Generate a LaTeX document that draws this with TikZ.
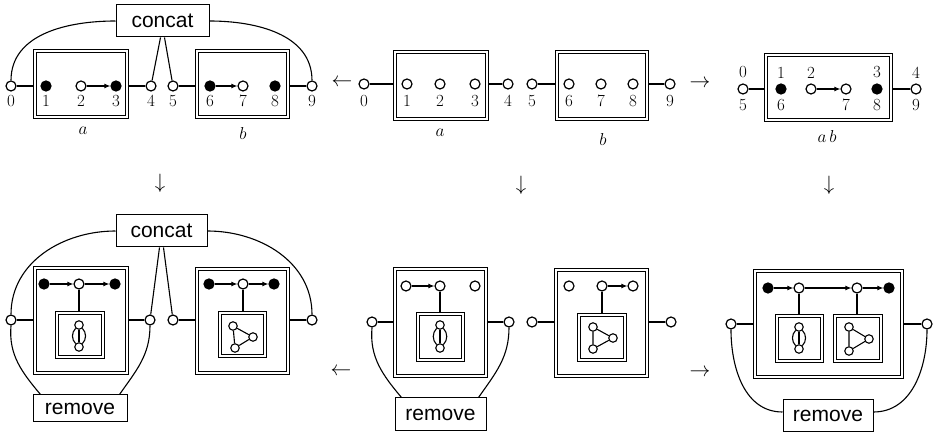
\documentclass[tikz,border=0pt]{standalone}
\usepackage{fontspec}
\newfontfamily\opfont{Liberation Sans}
\usetikzlibrary{arrows.meta,calc}

\tikzset{
  wire/.style={line width=1.1pt},
  arr/.style={wire,-{Latex[length=6pt,width=5pt]}},
  vtx/.style={circle,draw,line width=1.2pt,fill=white,minimum size=10pt,inner sep=0pt},
  fv/.style={vtx,fill=black},
  sv/.style={circle,draw,line width=1.1pt,fill=white,minimum size=8.5pt,inner sep=0pt},
  multi/.style={wire,bend left=#1},
  % heavy outer frame with a thin frame just inside it
  dbox/.style={draw,line width=1.6pt,inner sep=0pt,
    path picture={\draw[line width=0.7pt]
      ($(path picture bounding box.south west)+(2.8,2.8)$) rectangle
      ($(path picture bounding box.north east)+(-2.8,-2.8)$);}},
  opbox/.style={draw,line width=1pt,fill=white,inner sep=0pt,
    font=\opfont\fontsize{21}{21}\selectfont},
  lbl/.style={inner sep=0pt,font=\fontsize{17}{17}\selectfont},
  every label/.style={lbl},
  sym/.style={inner sep=0pt,font=\fontsize{20}{20}\selectfont},
}

\begin{document}
\begin{tikzpicture}[x=1pt,y=1pt]
\useasboundingbox (0,0) rectangle (938,-438);

% ---------- top left: concat applied to a and b ----------
\node[opbox,minimum width=93pt,minimum height=32pt] (c1) at (162.5,-21) {concat};
\node[dbox,minimum width=95pt,minimum height=69pt] (a1) at (81,-84) {};
\node[dbox,minimum width=94pt,minimum height=69pt] (b1) at (242.5,-84) {};
\node[vtx,label={[label distance=3pt]below:0}] (n0) at (11,-86) {};
\node[fv ,label={[label distance=3pt]below:1}] (n1) at (46,-86) {};
\node[vtx,label={[label distance=3pt]below:2}] (n2) at (81,-86) {};
\node[fv ,label={[label distance=3pt]below:3}] (n3) at (116,-86) {};
\node[vtx,label={[label distance=3pt]below:4}] (n4) at (151,-86) {};
\node[vtx,label={[label distance=3pt]below:5}] (n5) at (173,-86) {};
\node[fv ,label={[label distance=3pt]below:6}] (n6) at (210,-86) {};
\node[vtx,label={[label distance=3pt]below:7}] (n7) at (243,-86) {};
\node[fv ,label={[label distance=3pt]below:8}] (n8) at (275,-86) {};
\node[vtx,label={[label distance=3pt]below:9}] (n9) at (312,-86) {};
\draw[wire] (n0) -- (n0 -| a1.west);
\draw[wire] (n4) -- (n4 -| a1.east);
\draw[wire] (n5) -- (n5 -| b1.west);
\draw[wire] (n9) -- (n9 -| b1.east);
\draw[arr] (n2) -- (n3);
\draw[arr] (n6) -- (n7);
\draw[wire] (c1.west) to[out=180,in=90] (n0.north);
\draw[wire] (c1.east) to[out=0,in=90] (n9.north);
\draw[wire] ($(c1.south)+(-2,0)$) -- (n4);
\draw[wire] ($(c1.south)+(2,0)$) -- (n5);
\node[lbl,anchor=base] (ta1) at (83,-135) {$a$};
\node[lbl,anchor=base] (tb1) at (243,-140) {$b$};

% ---------- top middle: a and b ----------
\node[dbox,minimum width=95pt,minimum height=70pt] (a2) at (441,-85.5) {};
\node[dbox,minimum width=93pt,minimum height=70pt] (b2) at (602,-85.5) {};
\node[vtx,label={[label distance=5pt]below:0}] (m0) at (364,-84) {};
\node[vtx,label={[label distance=5pt]below:1}] (m1) at (407,-84) {};
\node[vtx,label={[label distance=5pt]below:2}] (m2) at (440,-84) {};
\node[vtx,label={[label distance=5pt]below:3}] (m3) at (475,-84) {};
\node[vtx,label={[label distance=5pt]below:4}] (m4) at (508,-84) {};
\node[vtx,label={[label distance=5pt]below:5}] (m5) at (532,-84) {};
\node[vtx,label={[label distance=5pt]below:6}] (m6) at (569,-84) {};
\node[vtx,label={[label distance=5pt]below:7}] (m7) at (601,-84) {};
\node[vtx,label={[label distance=5pt]below:8}] (m8) at (633,-84) {};
\node[vtx,label={[label distance=5pt]below:9}] (m9) at (670,-84) {};
\draw[wire] (m0) -- (m0 -| a2.west);
\draw[wire] (m4) -- (m4 -| a2.east);
\draw[wire] (m5) -- (m5 -| b2.west);
\draw[wire] (m9) -- (m9 -| b2.east);
\node[lbl,anchor=base] (ta2) at (440,-137) {$a$};
\node[lbl,anchor=base] (tb2) at (603,-146) {$b$};

% ---------- top right: a b ----------
\node[dbox,minimum width=128pt,minimum height=68pt] (ab) at (828.5,-87.5) {};
\node[vtx,label={[label distance=5pt]above:0},label={[label distance=4pt]below:5}] (r0) at (743,-89) {};
\node[fv ,label={[label distance=5pt]above:1},label={[label distance=4pt]below:6}] (r1) at (781,-89) {};
\node[vtx,label={[label distance=5pt]above:2}] (r2) at (811,-89) {};
\node[vtx,label={[label distance=4pt]below:7}] (r3) at (846,-89) {};
\node[fv ,label={[label distance=5pt]above:3},label={[label distance=4pt]below:8}] (r4) at (877,-89) {};
\node[vtx,label={[label distance=5pt]above:4},label={[label distance=4pt]below:9}] (r5) at (916,-89) {};
\draw[wire] (r0) -- (r0 -| ab.west);
\draw[wire] (r5) -- (r5 -| ab.east);
\draw[arr] (r2) -- (r3);
\node[lbl,anchor=base] (tab) at (827,-143) {$a\,b$};

% ---------- arrows between stages ----------
\node[sym] (s1) at (342,-83) {$\leftarrow$};
\node[sym] (s2) at (700,-84) {$\rightarrow$};
\node[sym] (s3) at (160,-183) {$\downarrow$};
\node[sym] (s4) at (521,-185) {$\downarrow$};
\node[sym] (s5) at (829,-185) {$\downarrow$};
\node[sym] (s6) at (341,-372) {$\leftarrow$};
\node[sym] (s7) at (700,-373) {$\rightarrow$};

% ---------- bottom left ----------
\node[opbox,minimum width=91pt,minimum height=32pt] (c2) at (161.5,-231) {concat};
\node[dbox,minimum width=95pt,minimum height=108pt] (A3) at (81,-320.5) {};
\node[dbox,minimum width=49pt,minimum height=47pt] (I3) at (80,-335) {};
\node[dbox,minimum width=94pt,minimum height=107pt] (B3) at (242.5,-321) {};
\node[dbox,minimum width=48pt,minimum height=46pt] (J3) at (242.5,-334.5) {};
\node[fv]  (p1) at (44,-284) {};
\node[vtx] (p2) at (79,-284) {};
\node[fv]  (p3) at (115,-284) {};
\draw[arr] (p1) -- (p2);
\draw[arr] (p2) -- (p3);
\draw[wire] (p2) -- (p2 |- I3.north);
\node[sv] (g1) at (79,-325) {};
\node[sv] (g2) at (79,-347) {};
\draw[multi=45] (g1) to (g2);
\draw[wire] (g1) -- (g2);
\draw[multi=-45] (g1) to (g2);
\node[fv]  (q1) at (209,-284) {};
\node[vtx] (q2) at (243,-284) {};
\node[fv]  (q3) at (274,-284) {};
\draw[arr] (q1) -- (q2);
\draw[arr] (q2) -- (q3);
\draw[wire] (q2) -- (q2 |- J3.north);
\node[sv] (t1) at (233,-326) {};
\node[sv] (t2) at (253,-337) {};
\node[sv] (t3) at (235,-348) {};
\draw[wire] (t1) -- (t2) -- (t3) -- (t1);
\node[vtx] (L3)  at (11,-320) {};
\node[vtx] (R3a) at (150,-320) {};
\node[vtx] (L3b) at (173,-320) {};
\node[vtx] (R3)  at (312,-320) {};
\draw[wire] (L3) -- (L3 -| A3.west);
\draw[wire] (R3a) -- (R3a -| A3.east);
\draw[wire] (L3b) -- (L3b -| B3.west);
\draw[wire] (R3) -- (R3 -| B3.east);
\draw[wire] (c2.west) to[out=180,in=90] (L3.north);
\draw[wire] (c2.east) to[out=0,in=90] (R3.north);
\draw[wire] ($(c2.south)+(-2,0)$) -- (R3a);
\draw[wire] ($(c2.south)+(2,0)$) -- (L3b);
\node[opbox,minimum width=94pt,minimum height=27pt] (rm3) at (80,-408.5) {remove};
\draw[wire] (L3.south) to[out=-95,in=130] ($(rm3.north west)+(8,0)$);
\draw[wire] (R3a.south) to[out=-90,in=55] ($(rm3.north east)+(-8,0)$);

% ---------- bottom middle ----------
\node[dbox,minimum width=94pt,minimum height=110pt] (A4) at (440.5,-322.5) {};
\node[dbox,minimum width=48pt,minimum height=49pt] (I4) at (440.5,-337) {};
\node[vtx] (u1) at (406,-286) {};
\node[vtx] (u2) at (440,-286) {};
\node[vtx] (u3) at (475,-286) {};
\draw[arr] (u1) -- (u2);
\draw[wire] (u2) -- (u2 |- I4.north);
\node[sv] (h1) at (440,-325) {};
\node[sv] (h2) at (440,-348) {};
\draw[multi=45] (h1) to (h2);
\draw[wire] (h1) -- (h2);
\draw[multi=-45] (h1) to (h2);
\node[dbox,minimum width=94pt,minimum height=109pt] (B4) at (601.5,-323) {};
\node[dbox,minimum width=49pt,minimum height=48pt] (J4) at (602,-337.5) {};
\node[vtx] (v1) at (569,-286) {};
\node[vtx] (v2) at (602,-286) {};
\node[vtx] (v3) at (633,-286) {};
\draw[arr] (v2) -- (v3);
\draw[wire] (v2) -- (v2 |- J4.north);
\node[sv] (k1) at (593,-327) {};
\node[sv] (k2) at (613,-338) {};
\node[sv] (k3) at (593,-349) {};
\draw[wire] (k1) -- (k2) -- (k3) -- (k1);
\node[vtx] (L4)  at (372,-322) {};
\node[vtx] (R4a) at (509,-322) {};
\node[vtx] (L4b) at (532,-322) {};
\node[vtx] (R4)  at (671,-322) {};
\draw[wire] (L4) -- (L4 -| A4.west);
\draw[wire] (R4a) -- (R4a -| A4.east);
\draw[wire] (L4b) -- (L4b -| B4.west);
\draw[wire] (R4) -- (R4 -| B4.east);
\node[opbox,minimum width=91pt,minimum height=33pt] (rm4) at (440.5,-414.5) {remove};
\draw[wire] (L4.south) to[out=-95,in=130] ($(rm4.north west)+(7,0)$);
\draw[wire] (R4a.south) to[out=-90,in=55] ($(rm4.north east)+(-8,0)$);

% ---------- bottom right ----------
\node[dbox,minimum width=150pt,minimum height=109pt] (A5) at (828.5,-324) {};
\node[dbox,minimum width=48pt,minimum height=48pt] (I5) at (799.5,-338.5) {};
\node[dbox,minimum width=49pt,minimum height=48pt] (J5) at (858,-338.5) {};
\node[fv]  (w1) at (768,-288) {};
\node[vtx] (w2) at (799,-288) {};
\node[vtx] (w3) at (857,-288) {};
\node[fv]  (w4) at (889,-288) {};
\draw[arr] (w1) -- (w2);
\draw[arr] (w2) -- (w3);
\draw[arr] (w3) -- (w4);
\draw[wire] (w2) -- (w2 |- I5.north);
\draw[wire] (w3) -- (w3 |- J5.north);
\node[sv] (e1) at (799,-327) {};
\node[sv] (e2) at (799,-349) {};
\draw[multi=45] (e1) to (e2);
\draw[wire] (e1) -- (e2);
\draw[multi=-45] (e1) to (e2);
\node[sv] (f1) at (849,-327) {};
\node[sv] (f2) at (869,-339) {};
\node[sv] (f3) at (849,-351) {};
\draw[wire] (f1) -- (f2) -- (f3) -- (f1);
\node[vtx] (L5) at (731,-324) {};
\node[vtx] (R5) at (927,-324) {};
\draw[wire] (L5) -- (L5 -| A5.west);
\draw[wire] (R5) -- (R5 -| A5.east);
\node[opbox,minimum width=90pt,minimum height=32pt] (rm5) at (828,-416) {remove};
\draw[wire] (L5.south) to[out=-90,in=180] ($(rm5.west)+(0,4)$);
\draw[wire] (R5.south) to[out=-90,in=0] ($(rm5.east)+(0,4)$);
\end{tikzpicture}
\end{document}
